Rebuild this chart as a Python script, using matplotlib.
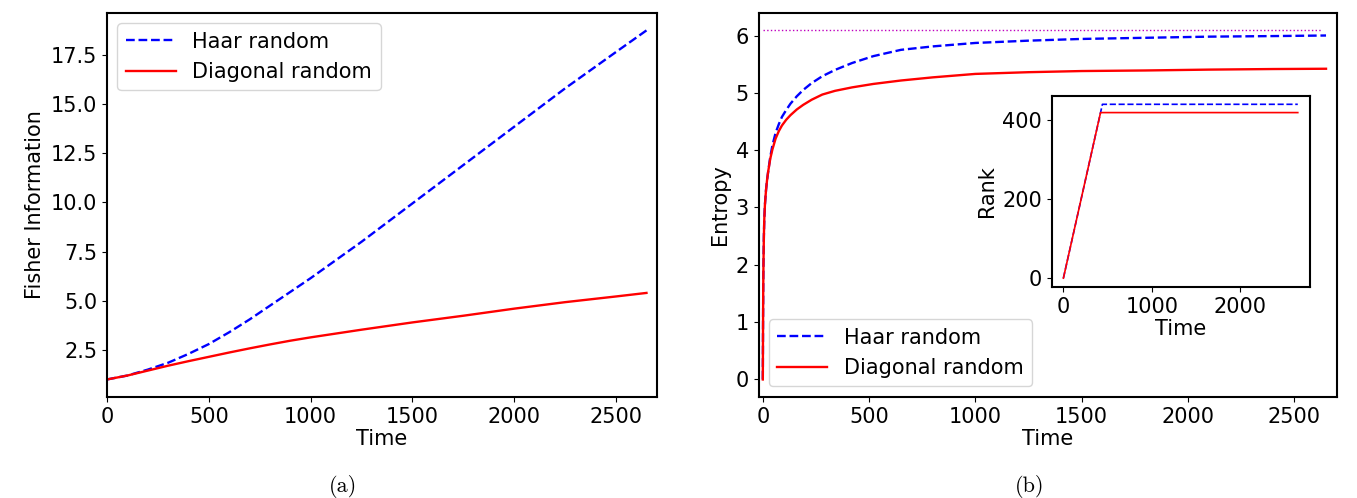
import matplotlib
matplotlib.use("Agg")
import matplotlib.pyplot as plt

# Fisher information vs time
t_fi = [0, 100, 200, 300, 400, 500, 600, 700, 800, 900, 1000, 1250, 1500, 1750, 2000, 2250, 2500, 2650]
fi_haar = [1.0, 1.2, 1.5, 1.85, 2.3, 2.8, 3.4, 4.05, 4.75, 5.45, 6.15, 8.0, 9.95, 11.9, 13.85, 15.8, 17.65, 18.75]
fi_diag = [1.0, 1.2, 1.45, 1.7, 1.93, 2.15, 2.37, 2.58, 2.78, 2.97, 3.14, 3.53, 3.9, 4.24, 4.6, 4.93, 5.22, 5.4]

# entropy vs time
t_ent = [0, 1, 2, 3, 5, 7, 10, 15, 20, 25, 35, 45, 60, 75, 90, 110, 130, 160, 190, 230, 280, 340,
         420, 520, 650, 800, 1000, 1250, 1500, 1800, 2100, 2400, 2650]
ent_haar = [0, 0.9, 1.6, 2.0, 2.5, 2.8, 3.05, 3.3, 3.48, 3.62, 3.88, 4.08, 4.3, 4.45, 4.58, 4.7, 4.81,
            4.94, 5.05, 5.17, 5.29, 5.4, 5.52, 5.64, 5.75, 5.81, 5.87, 5.91, 5.94, 5.96, 5.98, 5.99, 6.0]
ent_diag = [0, 0.9, 1.6, 2.0, 2.5, 2.8, 3.05, 3.3, 3.48, 3.62, 3.85, 4.01, 4.2, 4.33, 4.43, 4.53, 4.61,
            4.71, 4.79, 4.88, 4.97, 5.035, 5.095, 5.155, 5.215, 5.27, 5.33, 5.36, 5.38, 5.39, 5.405, 5.415, 5.42]
ent_max = 6.089  # ln(441)

# rank vs time (inset)
t_rank_haar = [0, 441, 2650]
rank_haar = [0, 441, 441]
t_rank_diag = [0, 420, 2650]
rank_diag = [0, 420, 420]

fs = 15
fig = plt.figure(figsize=(13.57, 4.98), dpi=100)

ax1 = fig.add_axes([0.0789, 0.203, 0.405, 0.771])
ax1.plot(t_fi, fi_haar, 'b--', lw=1.7, label='Haar random')
ax1.plot(t_fi, fi_diag, 'r-', lw=1.7, label='Diagonal random')
ax1.set_xlim(0, 2700)
ax1.set_xlabel('Time', fontsize=fs, labelpad=2)
ax1.set_ylabel('Fisher Information', fontsize=fs)
ax1.tick_params(labelsize=fs)
ax1.legend(loc='upper left', fontsize=fs, handlelength=2.4)
for s in ax1.spines.values():
    s.set_linewidth(1.5)

ax2 = fig.add_axes([0.559, 0.203, 0.426, 0.771])
ax2.hlines(ent_max, 0, 2630, colors='m', linestyles=':', lw=1)
ax2.plot(t_ent, ent_haar, 'b--', lw=1.7, label='Haar random')
ax2.plot(t_ent, ent_diag, 'r-', lw=1.7, label='Diagonal random')
ax2.set_xlim(-20, 2700)
ax2.set_xlabel('Time', fontsize=fs, labelpad=2)
ax2.set_ylabel('Entropy', fontsize=fs)
ax2.tick_params(labelsize=fs)
ax2.legend(loc='lower left', fontsize=fs, handlelength=2.4)
for s in ax2.spines.values():
    s.set_linewidth(1.5)

ax3 = fig.add_axes([0.775, 0.424, 0.190, 0.384])
ax3.plot(t_rank_haar, rank_haar, 'b--', lw=1.2)
ax3.plot(t_rank_diag, rank_diag, 'r-', lw=1.2)
ax3.set_xlabel('Time', fontsize=fs, labelpad=2)
ax3.set_ylabel('Rank', fontsize=fs)
ax3.tick_params(labelsize=fs)
for s in ax3.spines.values():
    s.set_linewidth(1.5)

fig.text(0.253, 0.024, '(a)', fontsize=16, family='cmr10', ha='center', va='center')
fig.text(0.759, 0.024, '(b)', fontsize=16, family='cmr10', ha='center', va='center')

fig.savefig('out.png', dpi=100)
